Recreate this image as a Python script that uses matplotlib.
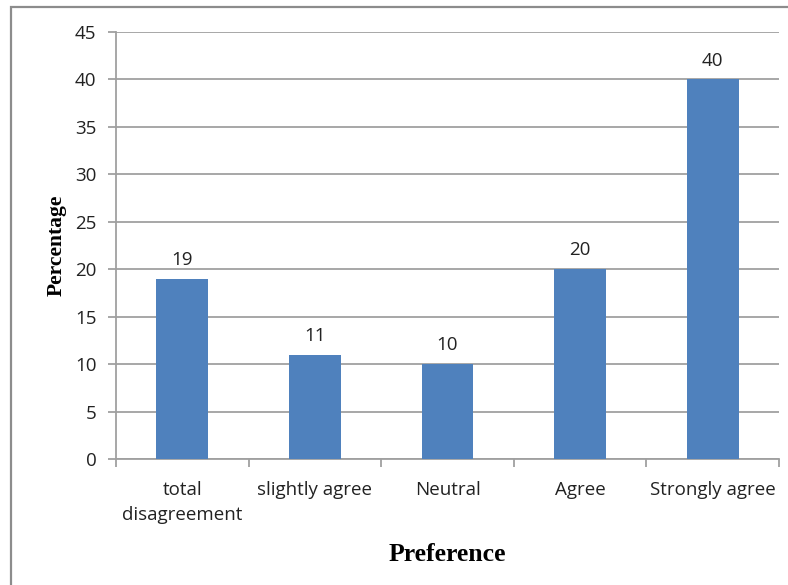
import matplotlib.pyplot as plt
from matplotlib.patches import Rectangle

categories = ["total\ndisagreement", "slightly agree", "Neutral", "Agree", "Strongly agree"]
percentages = [19, 11, 10, 20, 40]
y_ticks = [0, 5, 10, 15, 20, 25, 30, 35, 40, 45]

bar_color = "#4F81BD"
grid_color = "#A0A0A0"
label_font = ["Open Sans", "DejaVu Sans"]
label_size = 13.5

fig = plt.figure(figsize=(7.88, 5.85), dpi=100)
ax = fig.add_axes([0.1472, 0.2154, 0.8414, 0.7299])

# chart border around the whole figure
fig.patches.append(Rectangle((11 / 788, -0.02), 1.0, 1 - 7 / 585 + 0.02,
                             transform=fig.transFigure, fill=False,
                             edgecolor="#8C8C8C", linewidth=1.6))

x = list(range(len(categories)))
bars = ax.bar(x, percentages, width=0.39, color=bar_color, zorder=3)

for xi, v in zip(x, percentages):
    ax.annotate(str(v), (xi, v), xytext=(0, 7), textcoords="offset points",
                ha="center", va="bottom", fontsize=label_size, family=label_font,
                color="#222222")

ax.set_xlim(-0.5, len(categories) - 0.5)
ax.set_ylim(0, 45)
ax.set_yticks(y_ticks)
ax.set_yticklabels([str(t) for t in y_ticks], family=label_font, fontsize=label_size)
ax.yaxis.grid(True, color=grid_color, linewidth=1.3, zorder=0)

# category labels between boundary ticks
ax.set_xticks([i - 0.5 for i in range(len(categories) + 1)])
ax.set_xticklabels([])
ax.set_xticks(x, minor=True)
ax.set_xticklabels(categories, minor=True, family=label_font, fontsize=label_size,
                   linespacing=1.45)
ax.tick_params(axis="x", which="minor", length=0, pad=16)
ax.tick_params(axis="x", which="major", length=6, color=grid_color, width=1.3)
ax.tick_params(axis="y", length=6, color=grid_color, width=1.3, pad=8,
               labelcolor="#222222")
ax.tick_params(axis="x", which="minor", labelcolor="#222222")

for side in ["top", "right"]:
    ax.spines[side].set_visible(False)
for side in ["left", "bottom"]:
    ax.spines[side].set_color(grid_color)
    ax.spines[side].set_linewidth(1.3)

ax.set_ylabel("Percentage", family="Liberation Serif", fontweight="bold",
              fontsize=15.5, labelpad=6)
ax.set_xlabel("Preference", family="Liberation Serif", fontweight="bold",
              fontsize=18.5, labelpad=14)

fig.savefig("out.png", dpi=100)
